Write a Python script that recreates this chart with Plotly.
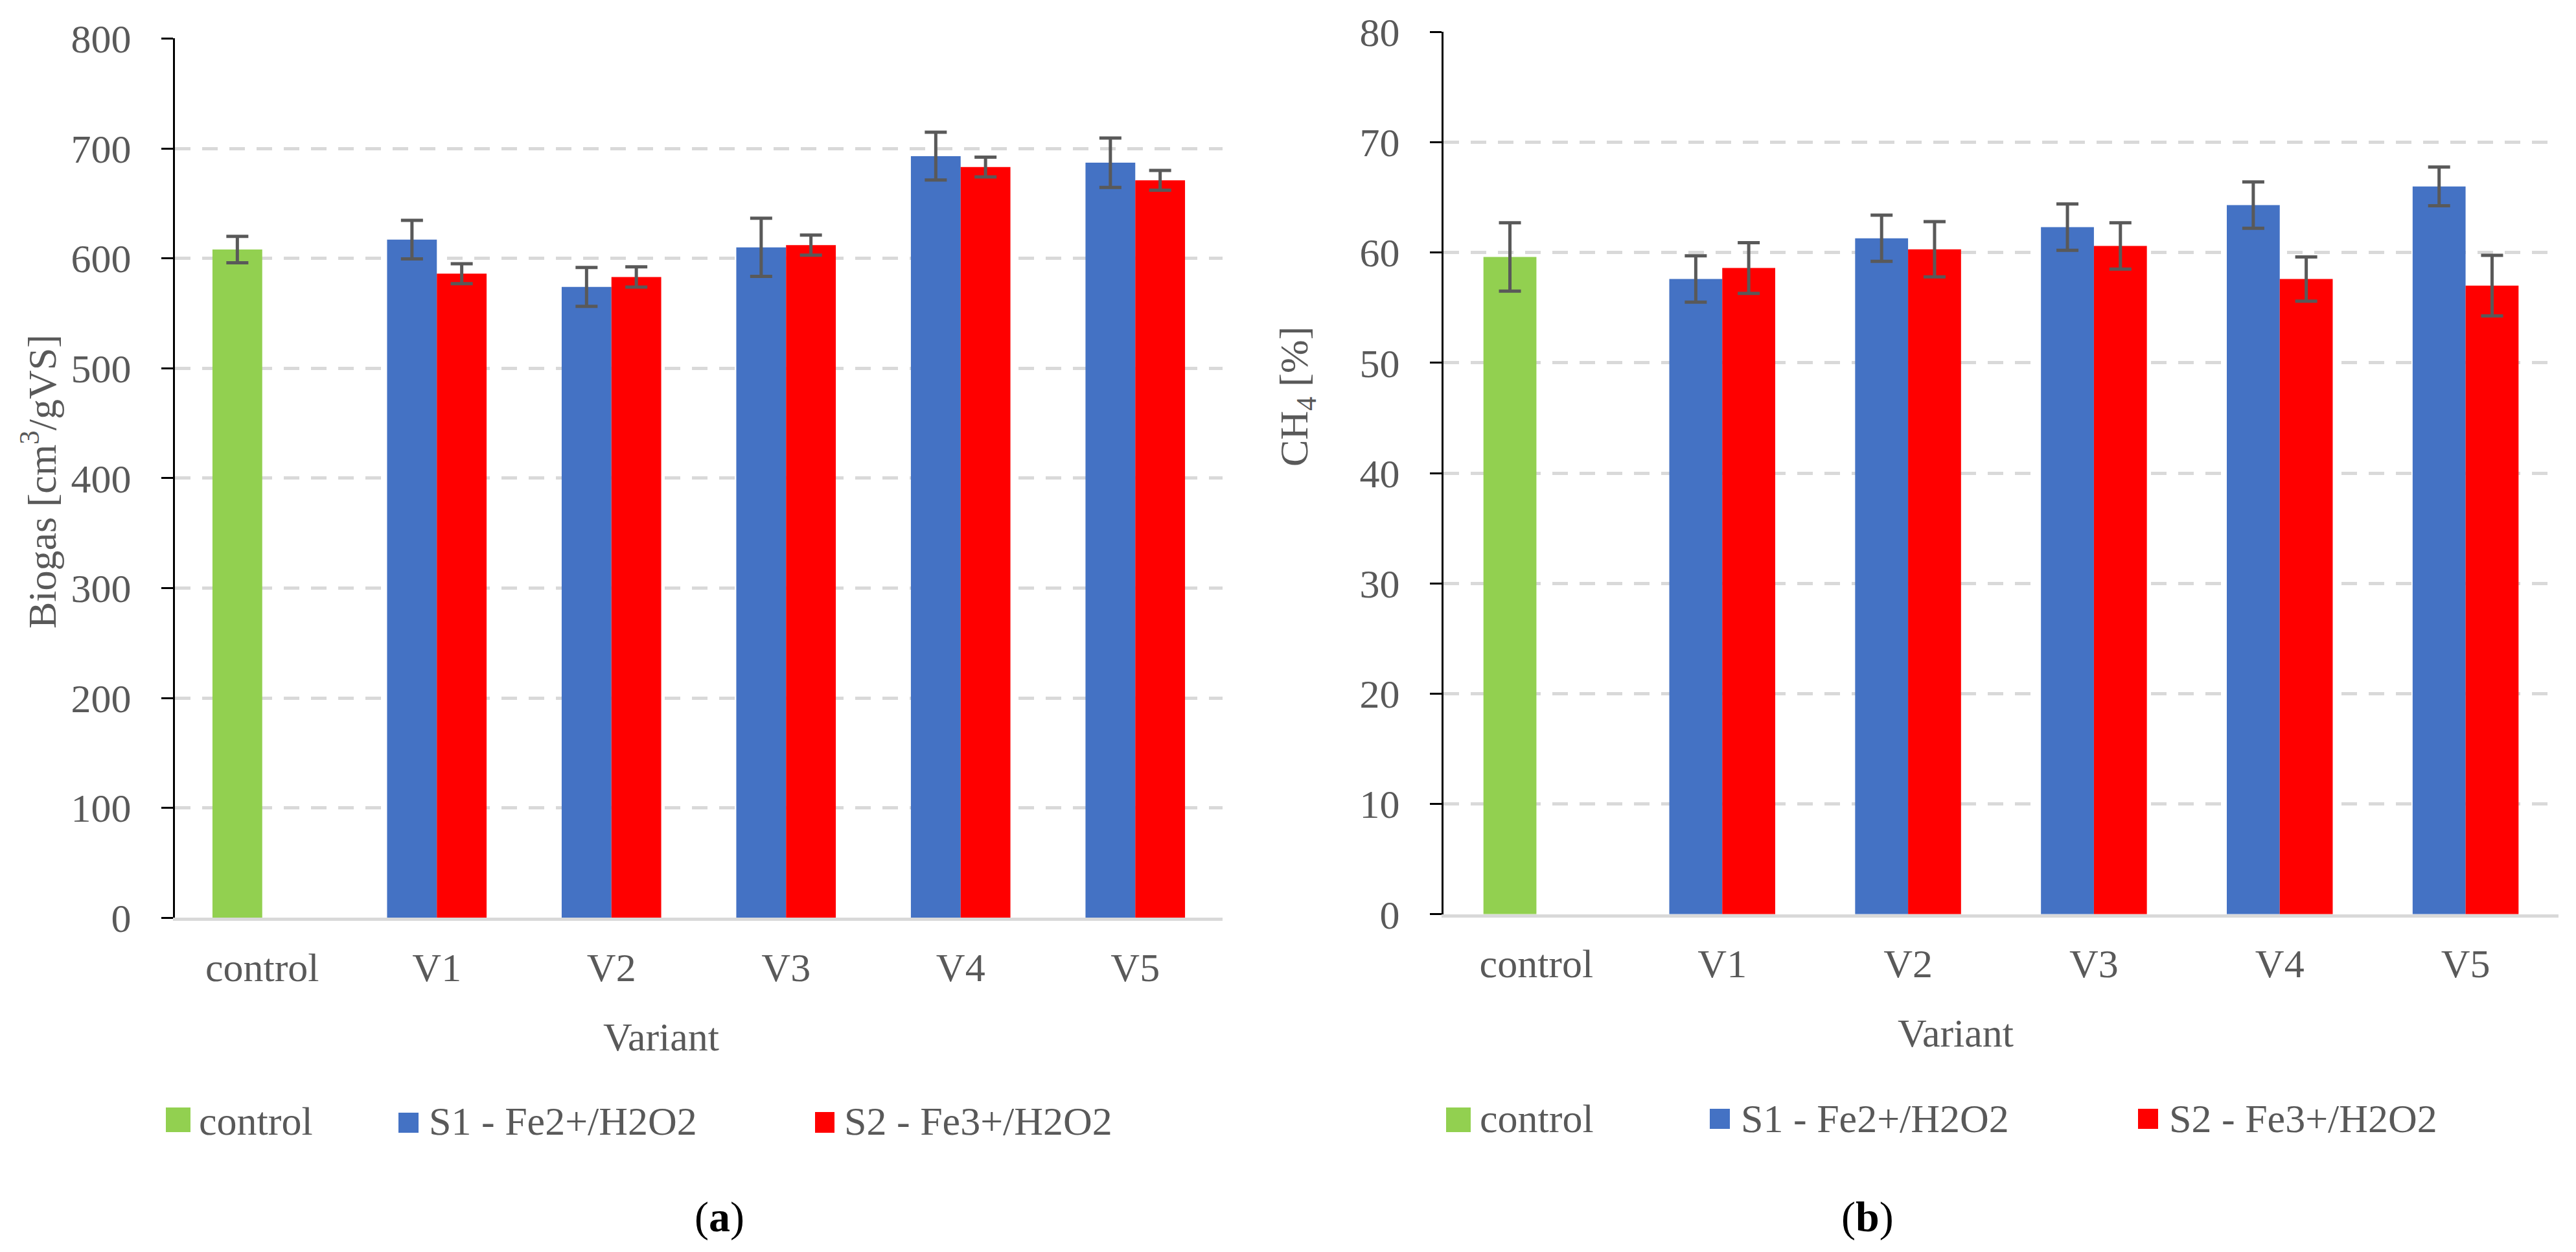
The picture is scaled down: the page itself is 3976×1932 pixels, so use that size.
import plotly.graph_objects as go

W, H = 3976, 1932

categories = ["control", "V1", "V2", "V3", "V4", "V5"]
series_names = ["control", "S1 - Fe2+/H2O2", "S2 - Fe3+/H2O2"]

# (a) Biogas [cm3/gVS]
biogas_control = [608, None, None, None, None, None]
biogas_control_err = [12, 0, 0, 0, 0, 0]
biogas_s1 = [None, 617, 574, 610, 693, 687]
biogas_s1_err = [0, 17.5, 17.7, 26.5, 21.7, 22.5]
biogas_s2 = [None, 586, 583, 612, 683, 671]
biogas_s2_err = [0, 9, 9.2, 9.1, 9, 9]

# (b) CH4 [%]
ch4_control = [59.6, None, None, None, None, None]
ch4_control_err = [3.1, 0, 0, 0, 0, 0]
ch4_s1 = [None, 57.6, 61.3, 62.3, 64.3, 66.0]
ch4_s1_err = [0, 2.1, 2.1, 2.1, 2.1, 1.75]
ch4_s2 = [None, 58.6, 60.3, 60.6, 57.6, 57.0]
ch4_s2_err = [0, 2.3, 2.5, 2.1, 2.0, 2.75]

colors = ["#92D050", "#4472C4", "#FF0000"]
TXT = "#595959"
FONT = "Liberation Serif"
FS = 62


def px(x):
    return x / W


def py(y):
    return 1 - y / H


fig = go.Figure()

err_style = dict(type="data", color="#595959", thickness=5, width=17)


def add_panel(vals, errs, xa, ya):
    groups = ["a", "a", "b"]
    for i in range(3):
        fig.add_trace(go.Bar(
            x=categories, y=vals[i], name=series_names[i],
            marker=dict(color=colors[i], line=dict(width=0)),
            offsetgroup=groups[i],
            error_y=dict(array=errs[i], **err_style),
            xaxis=xa, yaxis=ya, showlegend=False,
        ))


add_panel([biogas_control, biogas_s1, biogas_s2],
          [biogas_control_err, biogas_s1_err, biogas_s2_err], "x", "y")
add_panel([ch4_control, ch4_s1, ch4_s2],
          [ch4_control_err, ch4_s1_err, ch4_s2_err], "x2", "y2")

tickfont = dict(family=FONT, size=FS, color=TXT)

xcommon = dict(type="category", showline=True, linecolor="#D9D9D9", linewidth=5,
               ticks="", showgrid=False, tickfont=tickfont, ticklabelstandoff=18,
               fixedrange=True, automargin=False)
ycommon = dict(showline=True, linecolor="black", linewidth=3, ticks="outside",
               ticklen=18, tickwidth=3, tickcolor="black", showgrid=True,
               gridcolor="#D9D9D9", gridwidth=5, griddash="24px,18px",
               zeroline=False, tickfont=tickfont, ticklabelstandoff=34,
               automargin=False, fixedrange=True)

fig.update_layout(
    template="none",
    width=W, height=H,
    margin=dict(l=0, r=0, t=0, b=0, pad=0),
    paper_bgcolor="white", plot_bgcolor="white",
    barmode="group", bargap=0.43, bargroupgap=0,
    showlegend=False,
    xaxis=dict(domain=[px(270), px(1887)], anchor="y", **xcommon),
    yaxis=dict(domain=[py(1416.3), py(59.4)], range=[0, 800], dtick=100,
               anchor="x", **ycommon),
    xaxis2=dict(domain=[px(2228), px(3949)], anchor="y2", **xcommon),
    yaxis2=dict(domain=[py(1410.8), py(49.4)], range=[0, 80], dtick=10,
                anchor="x2", **ycommon),
)

ann = []
shapes = []

# axis titles
ann.append(dict(text="Biogas [cm<sup>3</sup>/gVS]", x=px(60), y=py(743), textangle=-90))
ann.append(dict(text="CH<sub>4</sub> [%]", x=px(2001), y=py(612), textangle=-90))
ann.append(dict(text="Variant", x=px(1021), y=py(1600)))
ann.append(dict(text="Variant", x=px(3018), y=py(1594)))

# legends
legend_items = [
    # (rect x0, x1, y0, y1, text x, text y, color, label)
    (256, 294, 1709, 1747, 305, 1730, colors[0], series_names[0]),
    (615, 646, 1717, 1748, 660, 1730, colors[1], series_names[1]),
    (1258, 1288, 1716, 1748, 1301, 1730, colors[2], series_names[2]),
    (2232, 2270, 1709, 1747, 2282, 1726, colors[0], series_names[0]),
    (2639, 2670, 1711, 1742, 2685, 1726, colors[1], series_names[1]),
    (3300, 3331, 1711, 1742, 3346, 1726, colors[2], series_names[2]),
]
for x0, x1, y0, y1, tx, ty, c, lab in legend_items:
    shapes.append(dict(type="rect", xref="paper", yref="paper",
                       x0=px(x0), x1=px(x1), y0=py(y1), y1=py(y0),
                       fillcolor=c, line=dict(width=0)))
    ann.append(dict(text=lab, x=px(tx), y=py(ty), xanchor="left"))

annotations = []
for a in ann:
    d = dict(xref="paper", yref="paper", showarrow=False,
             font=dict(family=FONT, size=FS, color=TXT),
             xanchor=a.pop("xanchor", "center"), yanchor="middle")
    d.update(a)
    annotations.append(d)

for lab, x in [("(<b>a</b>)", 1110), ("(<b>b</b>)", 2882)]:
    annotations.append(dict(text=lab, x=px(x), y=py(1878), xref="paper", yref="paper",
                            showarrow=False, xanchor="center", yanchor="middle",
                            font=dict(family=FONT, size=66, color="black")))

fig.update_layout(annotations=annotations, shapes=shapes)

fig.write_html("out.html")
